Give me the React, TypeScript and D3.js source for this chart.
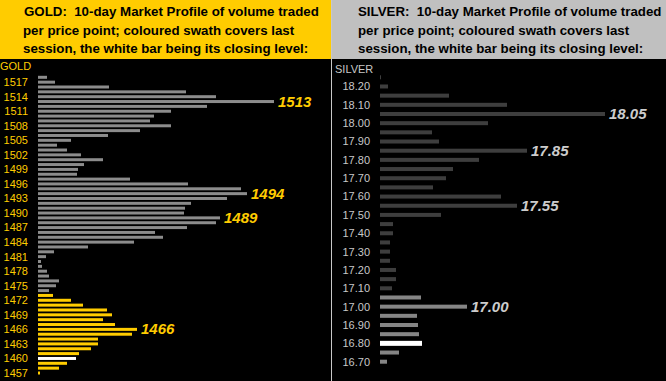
import React from "react";
import * as d3 from "d3";

const W = 666;
const H = 381;

// ---- GOLD data ----
const goldPrices: number[] = d3.range(1518, 1456, -1);
const goldVolumes: number[] = [
  9, 17, 71, 148, 178, 236, 169, 133, 116, 112, 133, 102, 70, 33, 19, 29, 43, 65, 46, 40,
  39, 92, 150, 203, 209, 189, 153, 147, 146, 182, 178, 149, 117, 125, 96, 50, 16, 8, 3, 4,
  9, 11, 21, 18, 11, 15, 33, 45, 69, 74, 65, 77, 99, 94, 60, 60, 53, 41, 38, 29, 21, 2,
];
const goldTicks: number[] = d3.range(1517, 1456, -3);
const goldSwath: [number, number] = [1457, 1473];
const goldClose = 1460;
const goldLabels: number[] = [1513, 1494, 1489, 1466];

// ---- SILVER data ----
const silverPrices: number[] = d3.range(0, 32).map((i) => +(18.25 - i * 0.05).toFixed(2));
const silverVolumes: number[] = [
  1, 8, 69, 127, 225, 108, 52, 59, 147, 99, 73, 66, 53, 121, 137, 61, 13, 13, 10, 10, 10, 16,
  16, 12, 41, 87, 37, 38, 39, 42, 19, 7,
];
const silverTicks: number[] = d3.range(0, 16).map((i) => +(18.2 - i * 0.1).toFixed(2));
const silverSwath: [number, number] = [16.7, 17.05];
const silverClose = 16.8;
const silverLabels: number[] = [18.05, 17.85, 17.55, 17.0];

const FONT = "'Liberation Sans', Arial, Helvetica, sans-serif";

const goldTitle = [
  "GOLD:  10-day Market Profile of volume traded",
  "per price point; coloured swath covers last",
  "session, the white bar being its closing level:",
];
const silverTitle = [
  "SILVER:  10-day Market Profile of volume traded",
  "per price point; coloured swath covers last",
  "session, the white bar being its closing level:",
];

export default function App() {
  // gold scales
  const gy = d3.scaleLinear().domain([1518, 1457]).range([77.3, 373]);
  const gx = d3.scaleLinear().domain([0, 240]).range([38, 278]);
  // silver scales
  const sy = d3.scaleLinear().domain([18.25, 16.7]).range([77.3, 361.7]);
  const sx = d3.scaleLinear().domain([0, 240]).range([380, 620]);

  const goldColor = (p: number) =>
    p === goldClose ? "#ffffff" : p >= goldSwath[0] && p <= goldSwath[1] ? "#ffcc00" : "#8c8c8c";
  const silverColor = (p: number) =>
    Math.abs(p - silverClose) < 1e-6
      ? "#ffffff"
      : p >= silverSwath[0] - 1e-6 && p <= silverSwath[1] + 1e-6
      ? "#858585"
      : "#3e3e3e";

  return (
    <div style={{ position: "fixed", left: 0, top: 0, width: W, height: H }}>
      <svg width={W} height={H} style={{ display: "block" }} fontFamily={FONT}>
        <rect x={0} y={0} width={W} height={H} fill="#000" />
        {/* title areas */}
        <rect x={0} y={0} width={331} height={59} fill="#ffcc00" />
        <rect x={332} y={0} width={334} height={59} fill="#c0c0c0" />
        <line x1={331.5} x2={331.5} y1={0} y2={H} stroke="#c8c8c8" strokeWidth={1} />
        {goldTitle.map((t, i) => (
          <text
            key={"gt" + i}
            x={i === 0 ? 24 : 23}
            y={16 + i * 18.6}
            fontSize={13.3}
            fontWeight="bold"
            fill="#000"
            style={{ whiteSpace: "pre" }}
          >
            {t}
          </text>
        ))}
        {silverTitle.map((t, i) => (
          <text
            key={"st" + i}
            x={358}
            y={16 + i * 18.6}
            fontSize={13.3}
            fontWeight="bold"
            fill="#000"
            style={{ whiteSpace: "pre" }}
          >
            {t}
          </text>
        ))}

        {/* GOLD panel */}
        <text x={0} y={67} fontSize={11} fill="#ffcc00" dominantBaseline="middle">
          GOLD
        </text>
        {goldTicks.map((p) => (
          <text
            key={"gtk" + p}
            x={28}
            y={gy(p) + 1}
            fontSize={11}
            fill="#ffcc00"
            textAnchor="end"
            dominantBaseline="middle"
          >
            {p}
          </text>
        ))}
        {goldPrices.map((p, i) => (
          <rect
            key={"gb" + p}
            x={gx(0)}
            y={gy(p) - 1.5}
            width={gx(goldVolumes[i]) - gx(0)}
            height={3}
            fill={goldColor(p)}
          />
        ))}
        {goldLabels.map((p) => {
          const i = goldPrices.indexOf(p);
          return (
            <text
              key={"gl" + p}
              x={gx(goldVolumes[i]) + 4}
              y={gy(p) + 1}
              fontSize={15}
              fontWeight="bold"
              fontStyle="italic"
              fill="#ffcc00"
              dominantBaseline="middle"
            >
              {p}
            </text>
          );
        })}

        {/* SILVER panel */}
        <text x={335} y={70} fontSize={11} fill="#c8c8c8" dominantBaseline="middle">
          SILVER
        </text>
        {silverTicks.map((p) => (
          <text
            key={"stk" + p}
            x={370}
            y={sy(p) + 1}
            fontSize={11}
            fill="#c8c8c8"
            textAnchor="end"
            dominantBaseline="middle"
          >
            {p.toFixed(2)}
          </text>
        ))}
        {silverPrices.map((p, i) => {
          const isClose = Math.abs(p - silverClose) < 1e-6;
          const h = isClose ? 5 : 4;
          return (
            <rect
              key={"sb" + p}
              x={sx(0)}
              y={sy(p) - h / 2}
              width={sx(silverVolumes[i]) - sx(0)}
              height={h}
              fill={silverColor(p)}
            />
          );
        })}
        {silverLabels.map((p) => {
          const i = silverPrices.findIndex((q) => Math.abs(q - p) < 1e-6);
          return (
            <text
              key={"sl" + p}
              x={sx(silverVolumes[i]) + 4}
              y={sy(p) + 1}
              fontSize={15}
              fontWeight="bold"
              fontStyle="italic"
              fill="#cccccc"
              dominantBaseline="middle"
            >
              {p.toFixed(2)}
            </text>
          );
        })}
      </svg>
    </div>
  );
}
